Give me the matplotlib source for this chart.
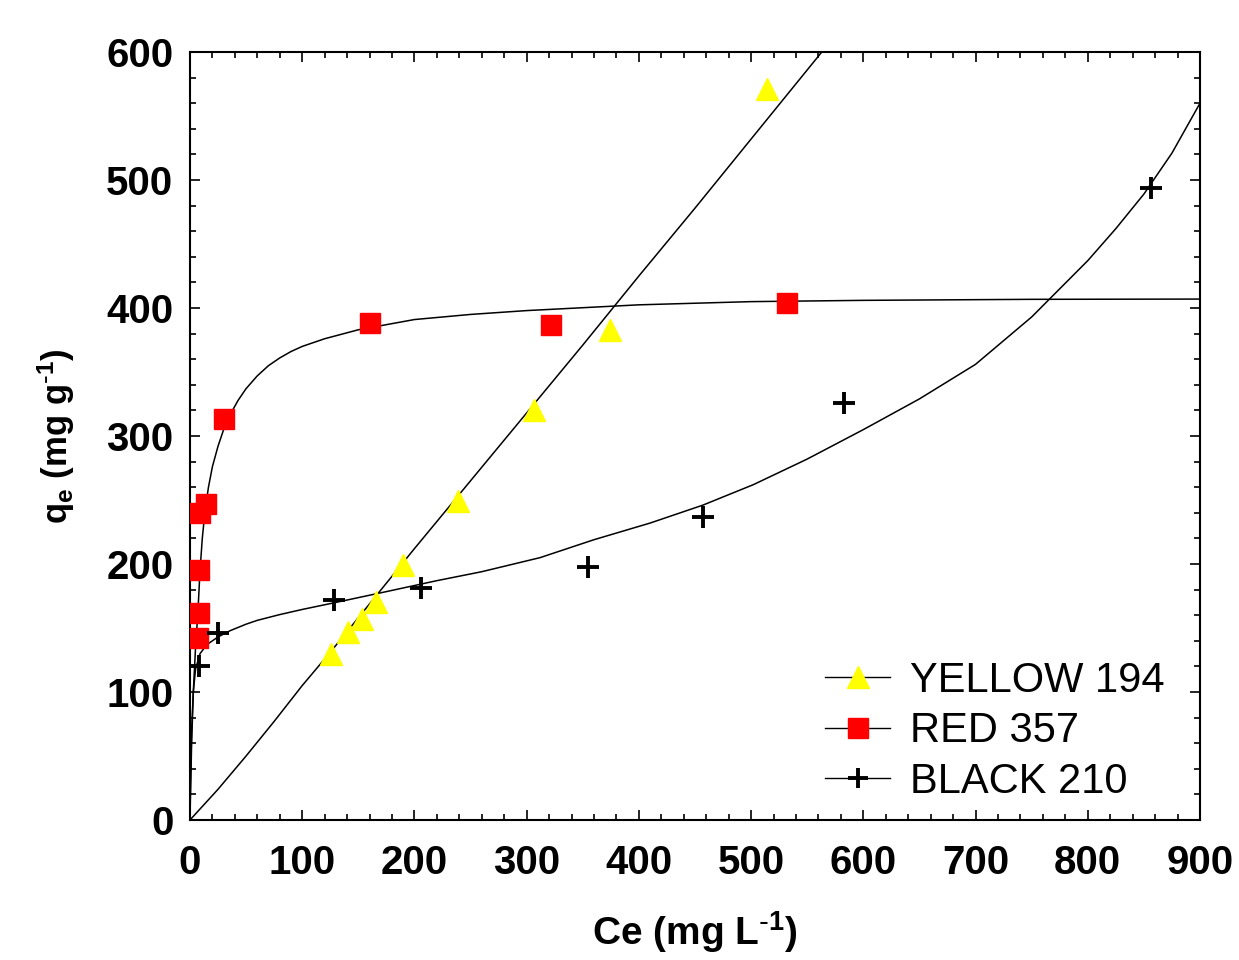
"""Adsorption isotherms of three reactive dyes: qe against Ce."""

import matplotlib

matplotlib.use("Agg")
import matplotlib.pyplot as plt
from matplotlib.lines import Line2D
from matplotlib.ticker import MultipleLocator

plt.rcParams["font.family"] = ["Liberation Sans", "DejaVu Sans"]
plt.rcParams["mathtext.default"] = "regular"

SERIES_NAMES = ["YELLOW 194", "RED 357", "BLACK 210"]

# measured points
yellow_ce = [126, 141, 153, 166, 190, 239, 307, 374, 514]
yellow_qe = [130, 147, 157, 170, 199, 249, 320, 383, 571]

red_ce = [7, 8, 8, 9, 14, 30, 160, 322, 532]
red_qe = [142, 162, 195, 240, 247, 313, 388, 387, 404]

black_ce = [8, 25, 128, 206, 355, 457, 583, 856]
black_qe = [120, 146, 172, 181, 198, 237, 326, 494]

# fitted model curves
yellow_fit_ce = [0, 25, 50, 75, 100, 125, 150, 175, 200, 250, 300, 350, 400,
                 450, 500, 563]
yellow_fit_qe = [0, 24, 50, 77, 105, 131, 158, 185, 212, 265, 318, 371, 425,
                 478, 532, 600]

red_fit_ce = [0, 0.5, 1.5, 3, 5, 7, 9, 11, 13.5, 16.5, 20, 25, 30, 36, 43, 50,
              60, 70, 80, 90, 100, 120, 150, 200, 250, 300, 400, 500, 600, 750,
              900]
red_fit_qe = [0, 20, 60, 100, 135, 161, 195, 220, 242, 260, 276, 292, 305, 317,
              328, 337, 347, 355, 361, 366, 370, 376, 383, 391, 395, 398, 402.5,
              405, 406, 406.8, 407]

black_fit_ce = [0, 0.5, 1.5, 3, 5, 9, 15, 25, 36, 50, 60, 80, 100, 130, 170,
                220, 260, 312, 360, 410, 457, 502, 550, 600, 650, 700, 750, 800,
                825, 850, 875, 900]
black_fit_qe = [0, 30, 70, 100, 118, 130, 137, 143, 148, 153, 156, 160.5, 164.5,
                170, 177.5, 187, 194, 205, 219, 232, 246, 262, 282, 305, 329,
                356, 393, 437, 462, 489, 521, 560]

OUTPUT_PLOT = "out.png"


def draw(ax):
    line_kw = dict(color="black", lw=1.1, zorder=2)
    ax.plot(yellow_fit_ce, yellow_fit_qe, **line_kw)
    ax.plot(red_fit_ce, red_fit_qe, **line_kw)
    ax.plot(black_fit_ce, black_fit_qe, **line_kw)

    ax.plot(yellow_ce, yellow_qe, ls="none", marker="^", ms=16,
            mfc="#ffff00", mec="#ffff00", zorder=3)
    ax.plot(red_ce, red_qe, ls="none", marker="s", ms=15,
            mfc="#ff0000", mec="#ff0000", zorder=3)
    ax.plot(black_ce, black_qe, ls="none", marker="+", ms=16,
            mew=2.8, color="black", zorder=3)

    handles = [
        Line2D([], [], color="black", lw=1, marker="^", ms=16,
               mfc="#ffff00", mec="#ffff00"),
        Line2D([], [], color="black", lw=1, marker="s", ms=15,
               mfc="#ff0000", mec="#ff0000"),
        Line2D([], [], color="black", lw=1, marker="+", ms=14, mew=2.8),
    ]
    ax.legend(handles, SERIES_NAMES, loc="upper left",
              bbox_to_anchor=(0.629, 0.207), frameon=False, fontsize=30,
              handlelength=1.55, handletextpad=0.48, labelspacing=0.25,
              borderpad=0, borderaxespad=0)


def style(ax):
    ax.set_xlim(0, 900)
    ax.set_ylim(0, 600)
    ax.xaxis.set_major_locator(MultipleLocator(100))
    ax.xaxis.set_minor_locator(MultipleLocator(20))
    ax.yaxis.set_major_locator(MultipleLocator(100))
    ax.yaxis.set_minor_locator(MultipleLocator(20))
    ax.tick_params(which="both", direction="in", top=True, right=True, width=1.2)
    ax.tick_params(which="major", length=7, labelsize=29)
    ax.tick_params(which="minor", length=4)
    ax.tick_params(axis="x", which="major", pad=17)
    ax.tick_params(axis="y", which="major", pad=12)
    for label in ax.get_xticklabels() + ax.get_yticklabels():
        label.set_fontweight("bold")
    for spine in ax.spines.values():
        spine.set_linewidth(1.5)
    ax.set_xlabel(r"Ce (mg L$^{\text{-}1}$)", fontsize=28, fontweight="bold",
                  labelpad=20)
    ax.set_ylabel(r"q$_{e}$ (mg g$^{\text{-}1}$)", fontsize=25, fontweight="bold",
                  labelpad=21)


def main():
    fig = plt.figure(figsize=(12.39, 9.6), dpi=100)
    ax = fig.add_axes([0.1533, 0.1458, 0.8152, 0.8])
    draw(ax)
    style(ax)
    fig.savefig(OUTPUT_PLOT, dpi=100)
    plt.close(fig)


if __name__ == "__main__":
    main()
